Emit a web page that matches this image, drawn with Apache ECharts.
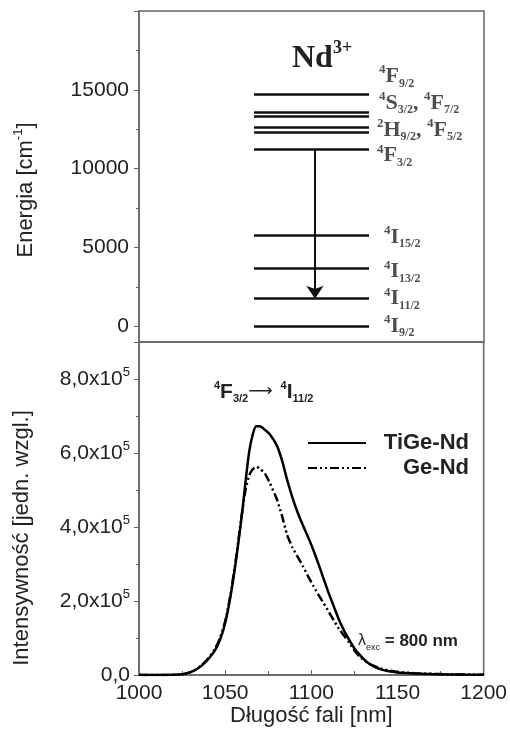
<!DOCTYPE html>
<html>
<head>
<meta charset="utf-8">
<script src="https://cdn.jsdelivr.net/npm/echarts@6/dist/echarts.min.js"></script>
<style>
  html, body { margin: 0; background: #fff; }
  #chart { width: 510px; height: 729px; }
</style>
</head>
<body>
<div id="chart"></div>
<script>
// Nd3+ energy levels [cm-1]
const levelEnergy = [0, 1750, 3650, 5800, 11200, 12300, 12600, 13350, 13600, 14700];
// term symbols: [superscript, letter, subscript]
const terms = [
  [['4', 'F', '9/2']],
  [['4', 'S', '3/2'], ['4', 'F', '7/2']],
  [['2', 'H', '9/2'], ['4', 'F', '5/2']],
  [['4', 'F', '3/2']],
  [['4', 'I', '15/2']],
  [['4', 'I', '13/2']],
  [['4', 'I', '11/2']],
  [['4', 'I', '9/2']]
];
const termEnergy = [14700, 13475, 12450, 11200, 5800, 3650, 1750, 0];
const transition = [11200, 1750];

// emission spectra
const wavelength = [1000, 1010, 1020, 1025, 1028, 1032, 1036, 1040, 1044, 1047, 1050, 1053, 1056, 1058, 1060,
  1062, 1064, 1066, 1068, 1070, 1073, 1076, 1080, 1083, 1086, 1089, 1092, 1095, 1098, 1101, 1104, 1107,
  1110, 1113, 1116, 1119, 1122, 1125, 1128, 1132, 1136, 1140, 1145, 1150, 1160, 1170, 1180, 1190, 1200];
const tigeNd = [0, 0, 500, 2000, 5000, 12000, 24000, 42000, 66000, 95000, 140000, 210000, 300000, 370000, 445000,
  530000, 605000, 650000, 672000, 672000, 663000, 650000, 620000, 580000, 527000, 480000, 440000, 406000, 374000, 340000, 302000, 262000,
  222000, 186000, 150000, 120000, 95000, 72000, 55000, 36000, 24000, 16000, 10000, 7000, 4000, 2500, 1500, 800, 500];
const geNd = [0, 0, 500, 2000, 5000, 12000, 25000, 44000, 70000, 100000, 145000, 215000, 305000, 375000, 445000,
  505000, 540000, 556000, 563000, 558000, 545000, 518000, 475000, 430000, 378000, 345000, 320000, 295000, 268000, 242000, 218000, 195000,
  172000, 148000, 125000, 106000, 87000, 66000, 50000, 35000, 25000, 18000, 12000, 8000, 5000, 3000, 2000, 1200, 800];

const chart = echarts.init(document.getElementById('chart'));

const sans = 'Liberation Sans, Arial, sans-serif';
const serif = 'Liberation Serif, Times New Roman, serif';
const ink = '#222';

// label nudges (px) for the term symbols
const termOffset = [[10, -18], [10, -11], [8, 0], [8, 6], [15, 2], [15, 3], [15, 0], [15, 0]];

function termText(parts) {
  return parts.map(p => '{p|' + p[0] + '}{m|' + p[1] + '}{b|' + p[2] + '}').join('{m|, }');
}

const option = {
  animation: false,
  backgroundColor: '#fff',
  title: {
    text: '{n|Nd}{s|3+}',
    left: 287,
    top: 34,
    textStyle: {
      rich: {
        n: { fontFamily: serif, fontWeight: 'bold', fontSize: 32, lineHeight: 40, color: ink },
        s: { fontFamily: serif, fontWeight: 'bold', fontSize: 18, lineHeight: 18, verticalAlign: 'top', color: ink }
      }
    }
  },
  grid: [
    { left: 139, right: 26, top: 11, height: 331, show: true, borderColor: '#666', borderWidth: 1.5 },
    { left: 139, right: 26, top: 342, height: 333, show: true, borderColor: '#666', borderWidth: 1.5 }
  ],
  legend: {
    orient: 'vertical',
    left: 302,
    top: 427,
    itemWidth: 58,
    itemHeight: 14,
    itemGap: 3,
    data: ['TiGe-Nd', 'Ge-Nd'],
    itemStyle: { opacity: 0, borderWidth: 0 },
    formatter: name => '{t|' + name + '}',
    textStyle: {
      rich: {
        t: { width: 98, align: 'right', fontFamily: sans, fontWeight: 'bold', fontSize: 22, lineHeight: 22, color: ink }
      }
    }
  },
  xAxis: [
    { gridIndex: 0, type: 'value', min: 0, max: 1, show: false },
    {
      gridIndex: 1, type: 'value', min: 1000, max: 1200, interval: 50,
      name: 'Długość fali [nm]', nameLocation: 'middle', nameGap: 30,
      nameTextStyle: { fontFamily: sans, fontSize: 22, color: ink },
      axisLine: { lineStyle: { color: '#666', width: 1.5 } },
      axisTick: { inside: true, length: 5, lineStyle: { color: '#666' } },
      minorTick: { show: true, splitNumber: 2, length: 4, lineStyle: { color: '#666' } },
      splitLine: { show: false },
      axisLabel: {
        fontFamily: sans, fontSize: 21, color: ink, margin: 8, showMinLabel: true, showMaxLabel: true,
        formatter: v => String(v)
      }
    }
  ],
  yAxis: [
    {
      gridIndex: 0, type: 'value', min: -1000, max: 20000, splitNumber: 4,
      axisLine: { show: true, lineStyle: { color: '#666', width: 1.5 } },
      axisTick: { length: 5, lineStyle: { color: '#666' } },
      minorTick: { show: true, splitNumber: 2, length: 3, lineStyle: { color: '#666' } },
      splitLine: { show: false },
      axisLabel: {
        fontFamily: sans, fontSize: 21, color: ink, margin: 10,
        formatter: v => (v >= 0 && v <= 15000 && v % 5000 === 0) ? String(v) : ''
      }
    },
    {
      gridIndex: 1, type: 'value', min: 0, max: 900000, interval: 200000,
      axisLine: { show: true, lineStyle: { color: '#666', width: 1.5 } },
      axisTick: { length: 5, lineStyle: { color: '#666' } },
      minorTick: { show: true, splitNumber: 2, length: 3, lineStyle: { color: '#666' } },
      splitLine: { show: false },
      axisLabel: {
        margin: 9,
        formatter: v => {
          if (v % 200000 !== 0) return '';
          if (v === 0) return '{m|0,0}';
          return '{m|' + (v / 100000).toFixed(1).replace('.', ',') + 'x10}{s|5}';
        },
        rich: {
          m: { fontFamily: sans, fontSize: 21, lineHeight: 26, color: ink },
          s: { fontFamily: sans, fontSize: 13, lineHeight: 13, verticalAlign: 'top', color: ink }
        }
      }
    }
  ],
  graphic: [
    {
      type: 'text', x: 26, y: 190, rotation: Math.PI / 2,
      style: {
        text: '{m|Energia [cm}{s|-1}{m|]}', align: 'center', verticalAlign: 'middle',
        rich: {
          m: { fontFamily: sans, fontSize: 22, lineHeight: 28, fill: ink },
          s: { fontFamily: sans, fontSize: 13, lineHeight: 13, verticalAlign: 'top', fill: ink }
        }
      }
    },
    {
      type: 'text', x: 22, y: 538, rotation: Math.PI / 2,
      style: {
        text: 'Intensywność [jedn. wzgl.]', align: 'center', verticalAlign: 'middle',
        font: '22px ' + sans, fill: ink
      }
    },
    {
      type: 'text', x: 214, y: 392,
      style: {
        text: '{p|4}{m|F}{b|3/2}{a|⟶}{p|4}{m|I}{b|11/2}', verticalAlign: 'middle',
        rich: {
          p: { fontFamily: sans, fontWeight: 'bold', fontSize: 11, lineHeight: 11, verticalAlign: 'top', fill: ink },
          m: { fontFamily: sans, fontWeight: 'bold', fontSize: 21, lineHeight: 24, fill: ink },
          b: { fontFamily: sans, fontWeight: 'bold', fontSize: 11, lineHeight: 11, verticalAlign: 'bottom', fill: ink },
          a: { fontFamily: 'DejaVu Sans', fontSize: 17, lineHeight: 24, fill: ink, padding: [0, 8, 0, 0] }
        }
      }
    },
    {
      type: 'text', x: 358, y: 641,
      style: {
        text: '{l|λ}{e|exc}{m| = 800 nm}', verticalAlign: 'middle',
        rich: {
          l: { fontFamily: sans, fontSize: 16, lineHeight: 22, fill: ink },
          e: { fontFamily: sans, fontSize: 9, lineHeight: 9, verticalAlign: 'bottom', fill: ink },
          m: { fontFamily: sans, fontWeight: 'bold', fontSize: 17, lineHeight: 22, fill: ink }
        }
      }
    }
  ],
  series: [
    {
      name: 'levels',
      type: 'lines',
      coordinateSystem: 'cartesian2d',
      xAxisIndex: 0, yAxisIndex: 0,
      silent: true,
      lineStyle: { color: '#111', width: 2.5, opacity: 1 },
      data: levelEnergy.map(e => ({ coords: [[1 / 3, e], [2 / 3, e]] }))
    },
    {
      name: 'transition',
      type: 'lines',
      coordinateSystem: 'cartesian2d',
      xAxisIndex: 0, yAxisIndex: 0,
      silent: true,
      symbol: ['none', 'arrow'],
      symbolSize: [6, 13],
      lineStyle: { color: '#111', width: 2, opacity: 1 },
      data: [{ coords: [[0.51, transition[0]], [0.51, transition[1]]] }]
    },
    {
      name: 'terms',
      type: 'scatter',
      xAxisIndex: 0, yAxisIndex: 0,
      symbolSize: 0,
      silent: true,
      data: termEnergy.map((e, i) => ({
        value: [2 / 3, e],
        name: termText(terms[i]),
        label: { offset: termOffset[i] }
      })),
      label: {
        show: true,
        position: 'right',
        distance: 0,
        formatter: p => p.name,
        rich: {
          p: { fontFamily: serif, fontWeight: 'bold', fontSize: 13, lineHeight: 13, verticalAlign: 'top', color: ink },
          m: { fontFamily: serif, fontWeight: 'bold', fontSize: 22, lineHeight: 26, color: ink },
          b: { fontFamily: serif, fontWeight: 'bold', fontSize: 12, lineHeight: 12, verticalAlign: 'bottom', color: ink }
        }
      }
    },
    {
      name: 'TiGe-Nd',
      type: 'line',
      xAxisIndex: 1, yAxisIndex: 1,
      smooth: 0.2,
      symbol: 'none',
      lineStyle: { color: '#000', width: 2.5 },
      itemStyle: { color: '#000' },
      data: wavelength.map((w, i) => [w, tigeNd[i]])
    },
    {
      name: 'Ge-Nd',
      type: 'line',
      xAxisIndex: 1, yAxisIndex: 1,
      smooth: 0.2,
      symbol: 'none',
      lineStyle: { color: '#000', width: 2.5, type: [9, 3, 2, 3, 2, 3] },
      itemStyle: { color: '#000' },
      data: wavelength.map((w, i) => [w, geNd[i]])
    }
  ]
};

chart.setOption(option);
</script>
</body>
</html>
